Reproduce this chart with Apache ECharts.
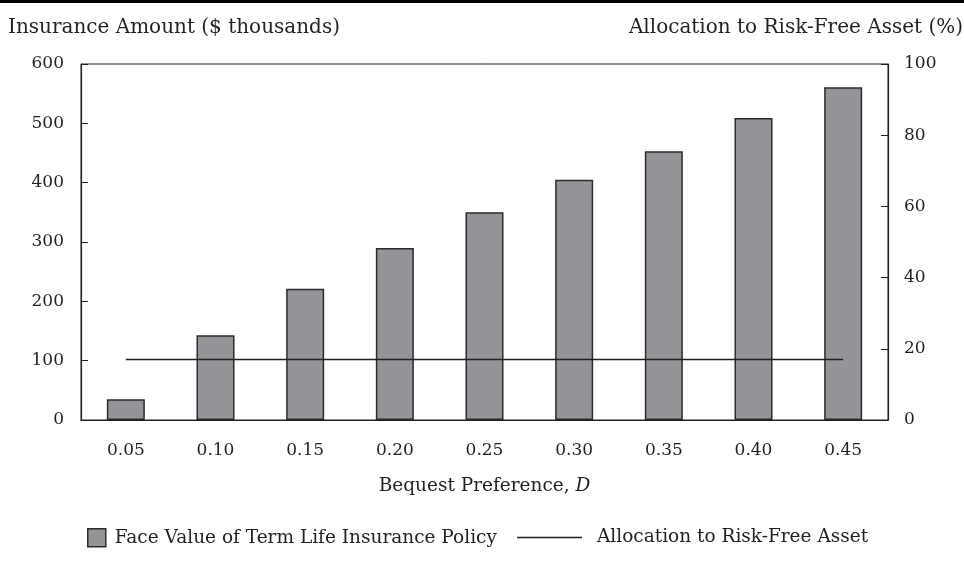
<!DOCTYPE html>
<html>
<head>
<meta charset="utf-8">
<script src="https://cdn.jsdelivr.net/npm/echarts@6/dist/echarts.min.js"></script>
<style>
  html, body { margin: 0; padding: 0; background: #fff; }
  #chart { width: 964px; height: 562px; }
</style>
</head>
<body>
<div id="chart"></div>
<script>
// bequest preference D
const categories = ['0.05', '0.10', '0.15', '0.20', '0.25', '0.30', '0.35', '0.40', '0.45']
// face value of term life insurance ($ thousands)
const insurance  = [35, 143, 221, 290, 350, 405, 453, 509, 561]
// allocation to risk-free asset (%)
const riskFree   = [17, 17, 17, 17, 17, 17, 17, 17, 17]

const FONT = 'DejaVu Serif'
const INK  = '#231f20'
const TXT  = 18.5   // legend, x axis name
const HEAD = 20     // axis titles on top
const TICK = 17     // axis numbers

const chart = echarts.init(document.getElementById('chart'))

chart.setOption({
  animation: false,
  textStyle: { fontFamily: FONT, color: INK },
  title: [
    { text: 'Insurance Amount ($ thousands)', left: 3, top: 13,
      textStyle: { fontFamily: FONT, fontSize: HEAD, fontWeight: 'normal', color: INK } },
    { text: 'Allocation to Risk-Free Asset (%)', right: -4, top: 13,
      textStyle: { fontFamily: FONT, fontSize: HEAD, fontWeight: 'normal', color: INK } }
  ],
  graphic: [
    { type: 'rect', left: 0, top: 0, shape: { width: 964, height: 3 }, style: { fill: '#000' } }
  ],
  legend: [
    {
      data: [{ name: 'Face Value of Term Life Insurance Policy', icon: 'rect' }],
      left: 82, top: 523, itemWidth: 18, itemHeight: 18, itemGap: 10,
      itemStyle: { color: '#939598', borderColor: '#2b2b2b', borderWidth: 1.5 },
      textStyle: { fontFamily: FONT, fontSize: TXT, color: INK, padding: [0, 0, 0, 4] }
    },
    {
      data: [{ name: 'Allocation to Risk-Free Asset', icon: 'rect' }],
      left: 512, top: 523, itemWidth: 65, itemHeight: 1.5,
      itemStyle: { color: INK, borderWidth: 0 },
      textStyle: { fontFamily: FONT, fontSize: TXT, color: INK, padding: [0, 0, 0, 10] }
    }
  ],
  grid: {
    left: 81, right: 76, top: 64, bottom: 142,
    show: true, borderColor: INK, borderWidth: 1
  },
  xAxis: {
    type: 'category',
    data: categories,
    boundaryGap: true,
    axisLine: { lineStyle: { color: INK, width: 1.2 } },
    axisTick: { show: false },
    axisLabel: { fontFamily: FONT, fontSize: TICK, color: INK, margin: 22 },
    name: '{n|Bequest Preference, }{i|D}',
    nameLocation: 'middle',
    nameGap: 57,
    nameTextStyle: {
      rich: {
        n: { fontFamily: FONT, fontSize: TXT, color: INK },
        i: { fontFamily: FONT, fontSize: TXT, color: INK, fontStyle: 'italic' }
      }
    }
  },
  yAxis: [
    {
      type: 'value', min: 0, max: 600, interval: 100,
      axisLine: { show: true, lineStyle: { color: INK, width: 1.2 } },
      axisTick: { show: true, inside: true, length: 7, lineStyle: { color: INK } },
      axisLabel: { fontFamily: FONT, fontSize: TICK, color: INK, margin: 17 },
      splitLine: { show: false }
    },
    {
      type: 'value', min: 0, max: 100, interval: 20,
      axisLine: { show: true, lineStyle: { color: INK, width: 1.2 } },
      axisTick: { show: true, inside: true, length: 7, lineStyle: { color: INK } },
      axisLabel: { fontFamily: FONT, fontSize: TICK, color: INK, margin: 16 },
      splitLine: { show: false }
    }
  ],
  series: [
    {
      name: 'Face Value of Term Life Insurance Policy',
      type: 'bar',
      data: insurance,
      barWidth: 38,
      itemStyle: { color: '#939598', borderColor: '#2b2b2b', borderWidth: 1.5 }
    },
    {
      name: 'Allocation to Risk-Free Asset',
      type: 'line',
      yAxisIndex: 1,
      data: riskFree,
      symbol: 'none',
      lineStyle: { color: INK, width: 1.5 },
      itemStyle: { color: INK }
    }
  ]
})
</script>
</body>
</html>
